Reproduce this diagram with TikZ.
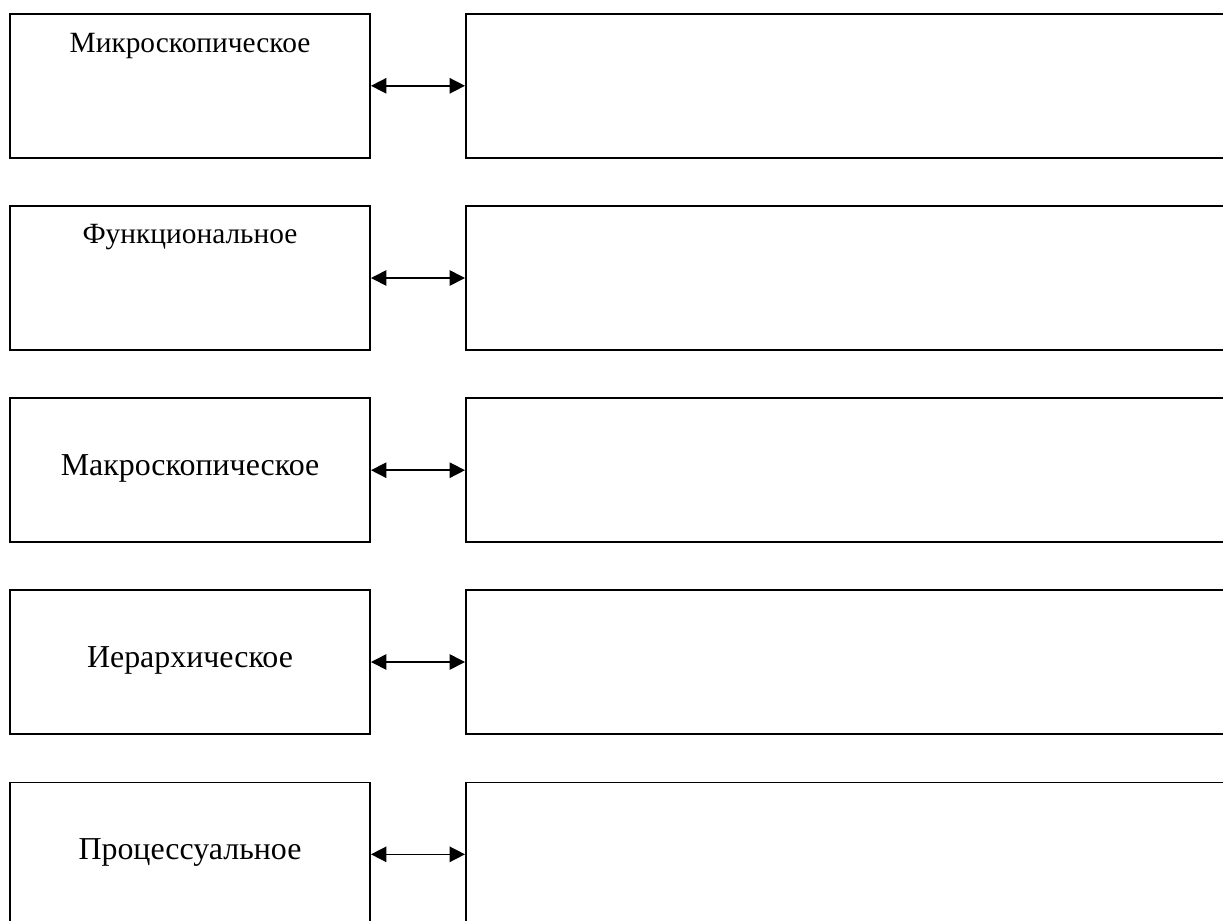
\documentclass[tikz,border=0pt]{standalone}
\usepackage{fontspec}
\setmainfont{Liberation Serif}
\usepackage{tikz}
\usetikzlibrary{arrows.meta}

\begin{document}
\begin{tikzpicture}[scale=0.25]
\tikzstyle{every node}+=[inner sep=0pt]
\tikzstyle{lbox}=[draw=black, line width=1.4pt, minimum width=9cm, minimum height=3.59cm]
\tikzstyle{rbox}=[draw=black, line width=1.4pt, minimum width=19.35cm, minimum height=3.59cm]
\tikzstyle{small}=[anchor=base, font=\fontsize{20.9}{25}\selectfont]
\tikzstyle{big}=[anchor=base, font=\fontsize{22.7}{27}\selectfont]
\tikzstyle{link}=[black, line width=1.1pt, {Triangle[length=11pt,width=11pt]}-{Triangle[length=11pt,width=11pt]}]
\useasboundingbox (0,0) rectangle (122.3,-92);
\draw (19,-8.58) node [lbox] (mikro) {};
\draw (85.3,-8.58) node [rbox] (mikror) {};
\draw (19,-5.2) node [small] (mikrot) {Микроскопическое};
\draw [link] (mikro.east) -- (mikror.west);
\draw (19,-27.8) node [lbox] (funk) {};
\draw (85.3,-27.8) node [rbox] (funkr) {};
\draw (19,-24.3) node [small] (funkt) {Функциональное};
\draw [link] (funk.east) -- (funkr.west);
\draw (19,-47.02) node [lbox] (makro) {};
\draw (85.3,-47.02) node [rbox] (makror) {};
\draw (19,-47.5) node [big] (makrot) {Макроскопическое};
\draw [link] (makro.east) -- (makror.west);
\draw (19,-66.2) node [lbox] (ier) {};
\draw (85.3,-66.2) node [rbox] (ierr) {};
\draw (19,-66.7) node [big] (iert) {Иерархическое};
\draw [link] (ier.east) -- (ierr.west);
\draw (19,-85.43) node [lbox] (proc) {};
\draw (85.3,-85.43) node [rbox] (procr) {};
\draw (19,-85.9) node [big] (proct) {Процессуальное};
\draw [link] (proc.east) -- (procr.west);
\end{tikzpicture}
\end{document}
